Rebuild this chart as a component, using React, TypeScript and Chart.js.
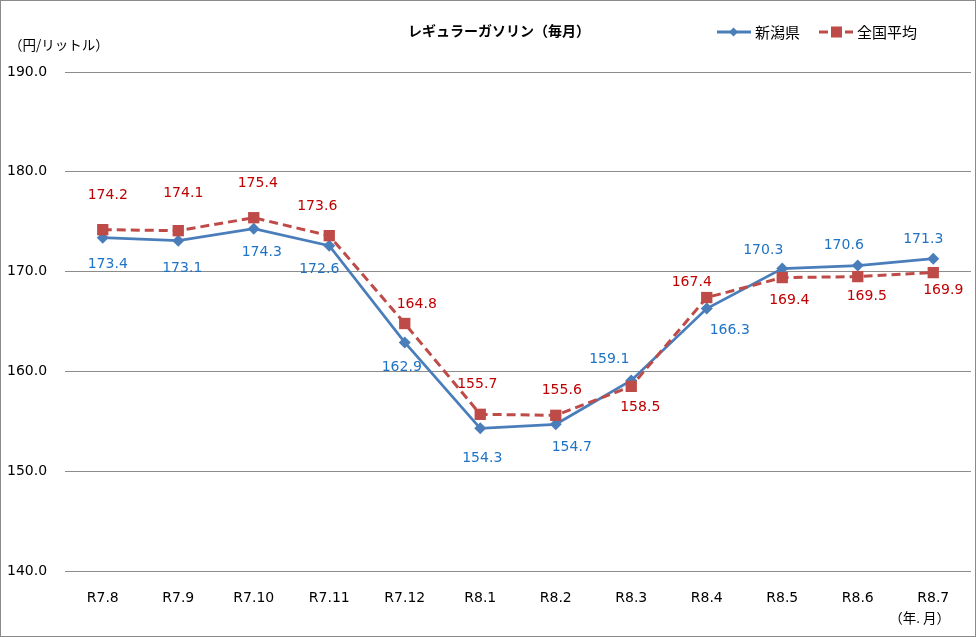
import { useEffect, useRef } from 'react';
import { Chart, registerables } from 'chart.js';

Chart.register(...registerables);

const months = ['R7.8', 'R7.9', 'R7.10', 'R7.11', 'R7.12', 'R8.1', 'R8.2', 'R8.3', 'R8.4', 'R8.5', 'R8.6', 'R8.7'];
const niigata = [173.4, 173.1, 174.3, 172.6, 162.9, 154.3, 154.7, 159.1, 166.3, 170.3, 170.6, 171.3];
const national = [174.2, 174.1, 175.4, 173.6, 164.8, 155.7, 155.6, 158.5, 167.4, 169.4, 169.5, 169.9];
const yTickValues = [140, 150, 160, 170, 180, 190];
const seriesNames = ['新潟県', '全国平均'];
const titleText = 'レギュラーガソリン（毎月）';
const yUnitText = '（円/リットル）';
const xUnitText = '（年. 月）';

// label placement (pixel offsets from each point)
const niigataLabelOffsets = [[5, 27], [4, 28], [8, 24], [-10, 24], [-3, 25], [2, 30], [16, 23], [-22, -21], [23, 22], [-19, -18], [-14, -20], [-10, -19]];
const nationalLabelOffsets = [[5, -34], [5, -37], [4, -34], [-12, -29], [12, -19], [-3, -30], [6, -25], [9, 21], [-15, -15], [7, 23], [9, 20], [10, 18]];

const NUM_FONT = '"DejaVu Sans", "Noto Sans CJK JP", sans-serif';
const JP_FONT = '"Noto Sans CJK JP", "DejaVu Sans", sans-serif';
const BLUE = '#4A7EBB';
const RED = '#BE4B48';
const BLUE_TEXT = '#1F73C6';
const RED_TEXT = '#C00000';

const W = 976;
const H = 637;

export default function App() {
  const ref = useRef<HTMLCanvasElement>(null);

  useEffect(() => {
    const canvas = ref.current;
    if (!canvas) return;

    const labelsPlugin = {
      id: 'labelsPlugin',
      afterDatasetsDraw(chart: any) {
        const ctx = chart.ctx;
        ctx.save();
        ctx.font = `14px ${NUM_FONT}`;
        ctx.textAlign = 'center';
        ctx.textBaseline = 'middle';
        const offs = [niigataLabelOffsets, nationalLabelOffsets];
        const cols = [BLUE_TEXT, RED_TEXT];
        chart.data.datasets.forEach((ds: any, di: number) => {
          const meta = chart.getDatasetMeta(di);
          ctx.fillStyle = cols[di];
          meta.data.forEach((pt: any, i: number) => {
            const o = offs[di][i];
            ctx.fillText(Number(ds.data[i]).toFixed(1), pt.x + o[0], pt.y + o[1]);
          });
        });
        ctx.restore();
      },
    };

    const decorPlugin = {
      id: 'decorPlugin',
      afterDraw(chart: any) {
        const ctx = chart.ctx;
        ctx.save();
        // outer border
        ctx.strokeStyle = '#8a8a8a';
        ctx.lineWidth = 1;
        ctx.strokeRect(0.5, 0.5, W - 1, H - 1);
        // title
        ctx.fillStyle = '#000';
        ctx.font = `bold 14px ${JP_FONT}`;
        ctx.textAlign = 'center';
        ctx.textBaseline = 'middle';
        ctx.fillText(titleText, 499, 31);
        // units
        ctx.font = `13.5px ${JP_FONT}`;
        ctx.textAlign = 'left';
        ctx.fillText(yUnitText, 9, 45);
        ctx.textAlign = 'right';
        ctx.fillText(xUnitText, 950, 618);
        // legend
        const ly = 32;
        ctx.lineWidth = 3;
        ctx.strokeStyle = BLUE;
        ctx.beginPath();
        ctx.moveTo(717, ly);
        ctx.lineTo(751, ly);
        ctx.stroke();
        ctx.fillStyle = BLUE;
        ctx.beginPath();
        ctx.moveTo(733.5, ly - 4.5);
        ctx.lineTo(738, ly);
        ctx.lineTo(733.5, ly + 4.5);
        ctx.lineTo(729, ly);
        ctx.closePath();
        ctx.fill();
        ctx.strokeStyle = RED;
        ctx.beginPath();
        ctx.moveTo(819, ly);
        ctx.lineTo(828, ly);
        ctx.moveTo(845, ly);
        ctx.lineTo(853, ly);
        ctx.stroke();
        ctx.fillStyle = RED;
        ctx.fillRect(831, ly - 5.5, 11, 11);
        ctx.fillStyle = '#000';
        ctx.font = `15px ${JP_FONT}`;
        ctx.textAlign = 'left';
        ctx.fillText(seriesNames[0], 755, ly);
        ctx.fillText(seriesNames[1], 857, ly);
        ctx.restore();
      },
    };

    const chart = new Chart(canvas, {
      type: 'line',
      data: {
        labels: months,
        datasets: [
          {
            label: seriesNames[0],
            data: niigata,
            borderColor: BLUE,
            backgroundColor: BLUE,
            borderWidth: 2.75,
            pointStyle: 'rectRot',
            pointRadius: 6,
            pointBorderWidth: 0,
            pointBackgroundColor: BLUE,
            tension: 0,
            order: 2,
          },
          {
            label: seriesNames[1],
            data: national,
            borderColor: RED,
            backgroundColor: RED,
            borderWidth: 3,
            borderDash: [9, 5],
            pointStyle: 'rect',
            pointRadius: 8,
            pointBorderWidth: 0,
            pointBackgroundColor: RED,
            tension: 0,
            order: 1,
          },
        ],
      },
      options: {
        responsive: false,
        animation: false,
        devicePixelRatio: 1,
        layout: { autoPadding: false, padding: { left: 7, right: 5, top: 72, bottom: 0 } },
        plugins: {
          legend: { display: false },
          title: { display: false },
          tooltip: { enabled: false },
        },
        scales: {
          x: {
            offset: true,
            grid: { display: false, drawTicks: false },
            border: { display: false },
            ticks: {
              color: '#000',
              font: { family: NUM_FONT, size: 14 },
              padding: 19,
              maxRotation: 0,
              autoSkip: false,
            },
            afterFit: (s: any) => {
              s.height = 66;
              s.paddingLeft = 0;
              s.paddingRight = 0;
            },
          },
          y: {
            min: 140,
            max: 190,
            afterBuildTicks: (s: any) => {
              s.ticks = yTickValues.map((v) => ({ value: v }));
            },
            grid: { color: '#8c8c8c', lineWidth: 1, drawTicks: false },
            border: { display: false },
            ticks: {
              color: '#000',
              font: { family: NUM_FONT, size: 14 },
              crossAlign: 'far',
              padding: 0,
              callback: (v: any) => Number(v).toFixed(1),
            },
            afterFit: (s: any) => {
              s.width = 58;
            },
          },
        },
      },
      plugins: [labelsPlugin, decorPlugin],
    } as any);

    return () => chart.destroy();
  }, []);

  return (
    <div style={{ position: 'absolute', left: 0, top: 0, width: W, height: H, background: '#fff' }}>
      <canvas ref={ref} width={W} height={H} style={{ width: W, height: H, display: 'block' }} />
    </div>
  );
}
